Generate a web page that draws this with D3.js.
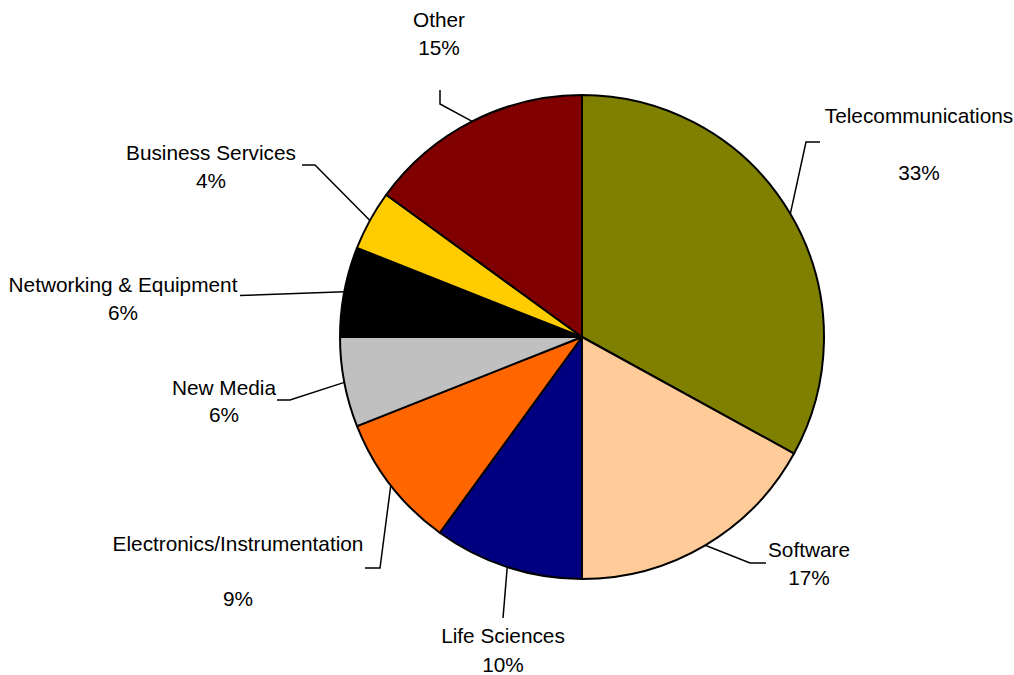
<!DOCTYPE html>
<html>
<head>
<meta charset="utf-8">
<script src="https://cdn.jsdelivr.net/npm/d3@7/dist/d3.min.js"></script>
<style>
  html, body { margin: 0; padding: 0; background: #fff; }
  svg { display: block; }
  text { font-family: "Liberation Sans", Arial, sans-serif; font-size: 20.8px; fill: #000; }
</style>
</head>
<body>
<svg id="chart" width="1014" height="675"></svg>
<script>
// Share of investment by sector, clockwise from 12 o'clock
const categories = ["Telecommunications", "Software", "Life Sciences", "Electronics/Instrumentation",
                    "New Media", "Networking & Equipment", "Business Services", "Other"];
const shares = [33, 17, 10, 9, 6, 6, 4, 15];
const valueLabels = ["33%", "17%", "10%", "9%", "6%", "6%", "4%", "15%"];
const colors = ["#808000", "#FFCC99", "#000080", "#FF6600", "#C0C0C0", "#000000", "#FFCC00", "#800000"];

// Label placement: text anchor, baselines for name and value, and leader elbow points
const labelLayout = [
  { x: 919, y1: 123, y2: 180, path: [[820, 142], [806, 142]] },
  { x: 809, y1: 557, y2: 585, path: [[766, 563], [750, 563]] },
  { x: 503, y1: 643, y2: 672, path: [[503, 618]] },
  { x: 238, y1: 551, y2: 606, path: [[365, 568], [380, 568]] },
  { x: 224, y1: 395, y2: 422, path: [[277, 400], [290, 400]] },
  { x: 123, y1: 292, y2: 320, path: [[240, 295.5]] },
  { x: 211, y1: 160, y2: 188, path: [[302, 165], [315, 165]] },
  { x: 439, y1: 27,  y2: 54.5, path: [[440, 90], [440, 104]] }
];

const cx = 582, cy = 337, radius = 242;
const svg = d3.select("#chart");
const g = svg.append("g").attr("transform", `translate(${cx},${cy})`);

const pie = d3.pie().sort(null).value(d => d.value);
const arcs = pie(categories.map((c, i) => ({ name: c, value: shares[i], color: colors[i] })));
const arc = d3.arc().innerRadius(0).outerRadius(radius);

g.selectAll("path.slice")
  .data(arcs)
  .enter().append("path")
  .attr("class", "slice")
  .attr("d", arc)
  .attr("fill", d => d.data.color)
  .attr("stroke", "#000")
  .attr("stroke-width", 2)
  .attr("stroke-linejoin", "round");

// Leader lines from the slice's middle on the rim to its label
const line = d3.line();
arcs.forEach((a, i) => {
  const mid = (a.startAngle + a.endAngle) / 2;
  const edge = [cx + radius * Math.sin(mid), cy - radius * Math.cos(mid)];
  const pts = labelLayout[i].path.concat([edge]);
  svg.append("path")
    .attr("d", line(pts))
    .attr("fill", "none")
    .attr("stroke", "#000")
    .attr("stroke-width", 1.5);
});

// Category names and percentages
arcs.forEach((a, i) => {
  const L = labelLayout[i];
  svg.append("text").attr("x", L.x).attr("y", L.y1).attr("text-anchor", "middle").text(a.data.name);
  svg.append("text").attr("x", L.x).attr("y", L.y2).attr("text-anchor", "middle").text(valueLabels[i]);
});
</script>
</body>
</html>
